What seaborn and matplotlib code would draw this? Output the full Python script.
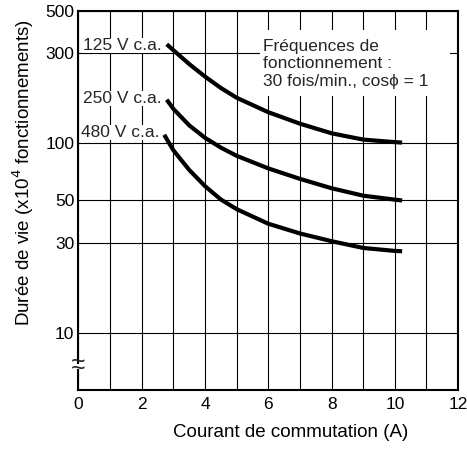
import numpy as np
import pandas as pd
from matplotlib import pyplot as plt
from matplotlib.patches import Rectangle
from matplotlib.ticker import FixedLocator, NullFormatter, NullLocator
import seaborn as sns

# données
courant_125 = [2.79, 3.0, 3.5, 4.0, 4.5, 5.0, 6.0, 7.0, 8.0, 9.0, 10.0, 10.23]
duree_125 = [333, 310, 262, 225, 196, 174, 146, 127, 113, 104.7, 101.5, 101]
courant_250 = [2.79, 3.0, 3.5, 4.0, 4.5, 5.0, 6.0, 7.0, 8.0, 9.0, 10.0, 10.23]
duree_250 = [170, 152, 124.5, 107, 95, 86, 73.8, 65, 58, 53, 50.5, 50]
courant_480 = [2.71, 3.0, 3.5, 4.0, 4.5, 5.0, 6.0, 7.0, 8.0, 9.0, 10.0, 10.23]
duree_480 = [111, 92, 72.5, 59.5, 50.6, 45, 37.7, 33.5, 30.5, 28.1, 27.1, 27]
tensions = ["125 V c.a.", "250 V c.a.", "480 V c.a."]

x_ticks = [0, 2, 4, 6, 8, 10, 12]
y_ticks = [10, 30, 50, 100, 300, 500]

sns.set_theme(style="white")
plt.rcParams['font.family'] = ['Liberation Sans', 'DejaVu Sans']

df = pd.concat([
    pd.DataFrame({"courant": courant_125, "duree": duree_125, "tension": tensions[0]}),
    pd.DataFrame({"courant": courant_250, "duree": duree_250, "tension": tensions[1]}),
    pd.DataFrame({"courant": courant_480, "duree": duree_480, "tension": tensions[2]}),
])

fig = plt.figure(figsize=(4.67, 4.5), dpi=100)
ax = fig.add_axes([0.168, 0.133, 0.813, 0.843])

sns.lineplot(data=df, x="courant", y="duree", hue="tension", sort=False,
             palette=["black"] * 3, linewidth=3.0, legend=False, ax=ax,
             solid_capstyle="butt", solid_joinstyle="round", zorder=3)

ax.set_yscale("log")
ax.set_xlim(0, 12)
ax.set_ylim(5, 500)
ax.xaxis.set_major_locator(FixedLocator(x_ticks))
ax.xaxis.set_minor_locator(FixedLocator([1, 3, 5, 7, 9, 11]))
ax.yaxis.set_major_locator(FixedLocator(y_ticks))
ax.yaxis.set_minor_locator(NullLocator())
ax.yaxis.set_minor_formatter(NullFormatter())
ax.set_yticklabels([str(v) for v in y_ticks])
ax.set_xticklabels([str(v) for v in x_ticks])
ax.grid(True, which="both", axis="x", color="black", linewidth=0.8)
ax.grid(True, which="major", axis="y", color="black", linewidth=0.8)
ax.tick_params(axis="both", which="both", length=0, labelsize=12.5, colors="black")
ax.tick_params(axis="x", pad=5)
ax.tick_params(axis="y", pad=3)
for s in ax.spines.values():
    s.set_color("black")
    s.set_linewidth(1.5)

ax.set_xlabel("Courant de commutation (A)", fontsize=13.5, color="black")
ax.set_ylabel("Durée de vie (x10$^4$ fonctionnements)", fontsize=13.5, color="black")
ax.xaxis.set_label_coords(0.56, -0.09)
ax.yaxis.set_label_coords(-0.113, 0.575)

# étiquettes des courbes
box = dict(facecolor="white", edgecolor="none", pad=0)
ax.text(2.62, 312, tensions[0], ha="right", va="baseline", fontsize=12.5, bbox=box, zorder=4)
ax.text(2.62, 163, tensions[1], ha="right", va="baseline", fontsize=12.5, bbox=box, zorder=4)
ax.text(2.56, 108, tensions[2], ha="right", va="baseline", fontsize=12.5, bbox=box, zorder=4)

# zone blanche derrière la note
ax.add_patch(Rectangle((5.75, 178), 6.0, 217, facecolor="white", edgecolor="none", zorder=2.5))
ax.text(5.82, 355, "Fréquences de\nfonctionnement :\n30 fois/min., cosϕ = 1",
        ha="left", va="top", fontsize=12.5, linespacing=1.2, zorder=4)

# symbole de rupture d'axe
ax.add_patch(Rectangle((-0.01, 0.057), 0.02, 0.013, transform=ax.transAxes,
                       facecolor="white", edgecolor="none", clip_on=False, zorder=5))
for yb in [0.075, 0.057]:
    ax.text(0.0, yb, "~", transform=ax.transAxes, ha="center", va="center",
            fontsize=18, clip_on=False, zorder=6)

fig.savefig("out.png", dpi=100)
